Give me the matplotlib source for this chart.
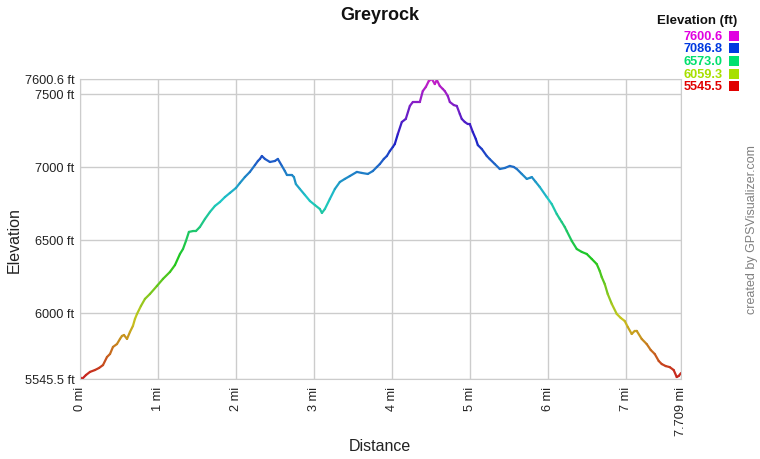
import numpy as np
import matplotlib
matplotlib.use("Agg")
import matplotlib.pyplot as plt
from matplotlib.collections import LineCollection
from matplotlib.colors import ListedColormap, Normalize, hsv_to_rgb
from matplotlib.patches import Rectangle

plt.rcParams["font.family"] = ["Liberation Sans", "DejaVu Sans"]

# track profile (distance in miles, elevation in feet)
distance = [
    0.0, 0.026, 0.077, 0.128, 0.192, 0.244, 0.295, 0.346, 0.385, 0.423,
    0.474, 0.513, 0.538, 0.564, 0.603, 0.641, 0.679, 0.705, 0.731, 0.782,
    0.833, 0.897, 0.987, 1.064, 1.154, 1.218, 1.282, 1.321, 1.359, 1.397,
    1.449, 1.487, 1.538, 1.603, 1.667, 1.731, 1.795, 1.859, 1.923, 2.0,
    2.051, 2.115, 2.179, 2.244, 2.282, 2.308, 2.333, 2.372, 2.436, 2.5,
    2.538, 2.59, 2.628, 2.654, 2.692, 2.718, 2.744, 2.769, 2.821, 2.885,
    2.949, 3.013, 3.077, 3.103, 3.141, 3.205, 3.269, 3.333, 3.397, 3.462,
    3.551, 3.615, 3.692, 3.756, 3.808, 3.846, 3.897, 3.936, 3.974, 4.013,
    4.038, 4.077, 4.128, 4.179, 4.231, 4.269, 4.321, 4.359, 4.397, 4.436,
    4.474, 4.513, 4.551, 4.577, 4.615, 4.654, 4.679, 4.718, 4.744, 4.795,
    4.833, 4.872, 4.897, 4.936, 4.974, 5.0, 5.038, 5.077, 5.103, 5.154,
    5.218, 5.256, 5.321, 5.385, 5.449, 5.513, 5.564, 5.603, 5.667, 5.731,
    5.769, 5.795, 5.846, 5.897, 5.987, 6.051, 6.115, 6.154, 6.179, 6.218,
    6.244, 6.308, 6.372, 6.436, 6.5, 6.564, 6.628, 6.667, 6.692, 6.731,
    6.769, 6.821, 6.885, 6.936, 6.987, 7.026, 7.077, 7.115, 7.141, 7.205,
    7.269, 7.321, 7.372, 7.423, 7.462, 7.513, 7.564, 7.615, 7.654, 7.679,
    7.709,
]
elevation = [
    5559, 5545.5, 5573, 5594, 5607, 5621, 5641, 5696, 5717, 5765,
    5785, 5820, 5840, 5847, 5820, 5868, 5909, 5957, 5991, 6046,
    6094, 6128, 6183, 6231, 6279, 6326, 6402, 6436, 6491, 6553,
    6559, 6559, 6587, 6642, 6690, 6731, 6758, 6792, 6820, 6854,
    6888, 6929, 6964, 7011, 7039, 7053, 7073, 7053, 7032, 7039,
    7053, 7005, 6970, 6943, 6943, 6943, 6929, 6881, 6847, 6806,
    6765, 6737, 6710, 6683, 6710, 6779, 6847, 6895, 6916, 6936,
    6964, 6957, 6950, 6970, 6998, 7018, 7053, 7073, 7107, 7135,
    7155, 7224, 7306, 7327, 7416, 7443, 7443, 7443, 7518, 7546,
    7587, 7600.6, 7566, 7594, 7553, 7532, 7518, 7484, 7443, 7422,
    7416, 7361, 7327, 7306, 7292, 7292, 7238, 7190, 7148, 7121,
    7073, 7052, 7018, 6984, 6991, 7005, 6998, 6984, 6950, 6916,
    6923, 6929, 6895, 6861, 6792, 6744, 6676, 6642, 6621, 6587,
    6559, 6491, 6436, 6416, 6402, 6368, 6333, 6285, 6244, 6196,
    6128, 6060, 5991, 5964, 5943, 5902, 5854, 5875, 5875, 5820,
    5785, 5744, 5717, 5669, 5648, 5634, 5627, 5607, 5559, 5566,
    5586,
]

x_ticks = [0, 1, 2, 3, 4, 5, 6, 7, 7.709]
x_labels = ["0 mi", "1 mi", "2 mi", "3 mi", "4 mi", "5 mi", "6 mi", "7 mi", "7.709 mi"]
y_ticks = [5545.5, 6000, 6500, 7000, 7500, 7600.6]
y_labels = ["5545.5 ft", "6000 ft", "6500 ft", "7000 ft", "7500 ft", "7600.6 ft"]
legend_values = [7600.6, 7086.8, 6573.0, 6059.3, 5545.5]

y_min, y_max = 5545.5, 7600.6

# hue ramp red -> yellow -> green -> blue -> magenta, like GPSVisualizer
hues = np.linspace(0, 300 / 360, 256)
line_cmap = ListedColormap(hsv_to_rgb(np.column_stack([hues, np.full(256, 0.85), np.full(256, 0.78)])))
key_cmap = ListedColormap(hsv_to_rgb(np.column_stack([hues, np.full(256, 1.0), np.full(256, 0.88)])))
norm = Normalize(y_min, y_max)

fig = plt.figure(figsize=(7.6, 4.6), dpi=100)
ax = fig.add_axes([80 / 760, 80 / 460, 601 / 760, 300 / 460])

xs = np.array(distance)
ys = np.array(elevation, dtype=float)
pts = np.column_stack([xs, ys]).reshape(-1, 1, 2)
segs = np.concatenate([pts[:-1], pts[1:]], axis=1)
lc = LineCollection(segs, cmap=line_cmap, norm=norm, linewidth=1.6, capstyle="round", joinstyle="round")
lc.set_array((ys[:-1] + ys[1:]) / 2)
ax.add_collection(lc)

ax.set_xlim(0, 7.709)
ax.set_ylim(y_min, y_max)
ax.set_xticks(x_ticks)
ax.set_xticklabels(x_labels, rotation=90, fontsize=9.2)
ax.set_yticks(y_ticks)
ax.set_yticklabels(y_labels, fontsize=9.2)
ax.tick_params(length=0, colors="#222222")
ax.tick_params(axis="x", pad=5)
ax.tick_params(axis="y", pad=4)
ax.grid(True, color="#cccccc", linewidth=1)
ax.set_axisbelow(True)
for sp in ax.spines.values():
    sp.set_color("#cccccc")

fig.text(380 / 760, 1 - 447 / 460, "Distance", fontsize=11.5, color="#222222",
         ha="center", va="center")
fig.text(14 / 760, 1 - 240 / 460, "Elevation", fontsize=11.5, color="#222222",
         rotation=90, ha="center", va="center")
fig.text(380 / 760, 1 - 15 / 460, "Greyrock", fontsize=13, fontweight="bold",
         ha="center", va="center", color="#111111")
fig.text(752 / 760, 1 - 230 / 460, "created by GPSVisualizer.com", rotation=90,
         fontsize=9, color="#808080", ha="center", va="center")

# elevation key, top right
fig.text(737 / 760, 1 - 21 / 460, "Elevation (ft)", fontsize=9.5, fontweight="bold",
         ha="right", va="center", color="#111111")
for i, v in enumerate(legend_values):
    yc = 1 - (36.5 + i * 12.7) / 460
    c = key_cmap(norm(v))
    fig.text(723 / 760, yc, f"{v:.1f}", fontsize=9.2, fontweight="bold",
             ha="right", va="center", color=c)
    fig.patches.append(Rectangle((729 / 760, yc - 5 / 460), 10 / 760, 10 / 460,
                                 transform=fig.transFigure, facecolor=c, edgecolor="none"))

fig.savefig("out.png", dpi=100)
